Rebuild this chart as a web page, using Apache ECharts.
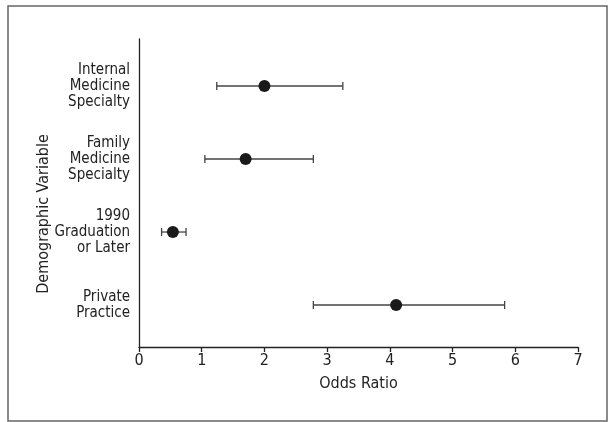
<!DOCTYPE html>
<html>
<head>
<meta charset="utf-8">
<script src="https://cdn.jsdelivr.net/npm/echarts@6/dist/echarts.min.js"></script>
<style>html,body{margin:0;padding:0;background:#fff}#c{width:608px;height:422px}</style>
</head>
<body>
<div id="c"></div>
<script>
// Data (top to bottom in the chart)
var categories = ['Internal\nMedicine\nSpecialty', 'Family\nMedicine\nSpecialty', '1990\nGraduation\nor Later', 'Private\nPractice'];
var oddsRatio = [2.0, 1.7, 0.54, 4.1];
var ciLower = [1.24, 1.05, 0.36, 2.78];
var ciUpper = [3.25, 2.78, 0.75, 5.83];
var xTicks = [0, 1, 2, 3, 4, 5, 6, 7];

var FONT = '"Liberation Sans Narrow", "DejaVu Sans Condensed", Arial, sans-serif';
var n = categories.length;
function rowPos(i) { return n - 1 - i; }

var pointData = oddsRatio.map(function (v, i) { return [v, rowPos(i)]; });
var ciData = oddsRatio.map(function (v, i) { return [ciLower[i], ciUpper[i], rowPos(i)]; });

var chart = echarts.init(document.getElementById('c'), null, { renderer: 'canvas' });
chart.setOption({
  animation: false,
  backgroundColor: '#fff',
  textStyle: { fontFamily: FONT },
  grid: { left: 139, right: 30, top: 39, bottom: 75, containLabel: false },
  xAxis: {
    type: 'value',
    min: xTicks[0], max: xTicks[xTicks.length - 1], interval: 1,
    name: 'Odds Ratio', nameLocation: 'middle', nameGap: 29,
    nameTextStyle: { fontFamily: FONT, fontSize: 16, color: '#222' },
    axisLine: { show: true, onZero: false, lineStyle: { color: '#222', width: 1.3 } },
    axisTick: { show: true, inside: false, length: 5, lineStyle: { color: '#222', width: 1.3 } },
    axisLabel: { fontFamily: FONT, fontSize: 16, color: '#222', margin: 6 },
    splitLine: { show: false }
  },
  yAxis: {
    type: 'value',
    min: -0.575, max: 3.644,
    axisLine: { show: true, onZero: false, lineStyle: { color: '#222', width: 1.3 } },
    axisTick: { show: false },
    splitLine: { show: false },
    axisLabel: {
      customValues: [0, 1, 2, 3],
      fontFamily: FONT, fontSize: 15, color: '#222', lineHeight: 16, margin: 9,
      align: 'right',
      formatter: function (v) {
        var idx = n - 1 - Math.round(v);
        return categories[idx] || '';
      }
    }
  },
  graphic: [
    {
      type: 'rect', z: -1,
      shape: { x: 8, y: 6, width: 599, height: 415 },
      style: { fill: 'none', stroke: '#666', lineWidth: 1.5 }
    },
    {
      type: 'text',
      x: 44, y: 214, rotation: Math.PI / 2,
      style: {
        text: 'Demographic Variable', fontFamily: FONT, fontSize: 16, fill: '#222',
        align: 'center', verticalAlign: 'middle'
      }
    }
  ],
  series: [
    {
      type: 'custom',
      data: ciData,
      encode: { x: [0, 1], y: 2 },
      renderItem: function (params, api) {
        var y = api.value(2);
        var p1 = api.coord([api.value(0), y]);
        var p2 = api.coord([api.value(1), y]);
        var h = 4;
        var st = { stroke: '#444', lineWidth: 1.3 };
        return {
          type: 'group',
          children: [
            { type: 'line', shape: { x1: p1[0], y1: p1[1], x2: p2[0], y2: p2[1] }, style: st },
            { type: 'line', shape: { x1: p1[0], y1: p1[1] - h, x2: p1[0], y2: p1[1] + h }, style: st },
            { type: 'line', shape: { x1: p2[0], y1: p2[1] - h, x2: p2[0], y2: p2[1] + h }, style: st }
          ]
        };
      },
      z: 2
    },
    {
      type: 'scatter',
      data: pointData,
      symbol: 'circle',
      symbolSize: 12,
      itemStyle: { color: '#1a1a1a', opacity: 1 },
      z: 3
    }
  ]
});
</script>
</body>
</html>
